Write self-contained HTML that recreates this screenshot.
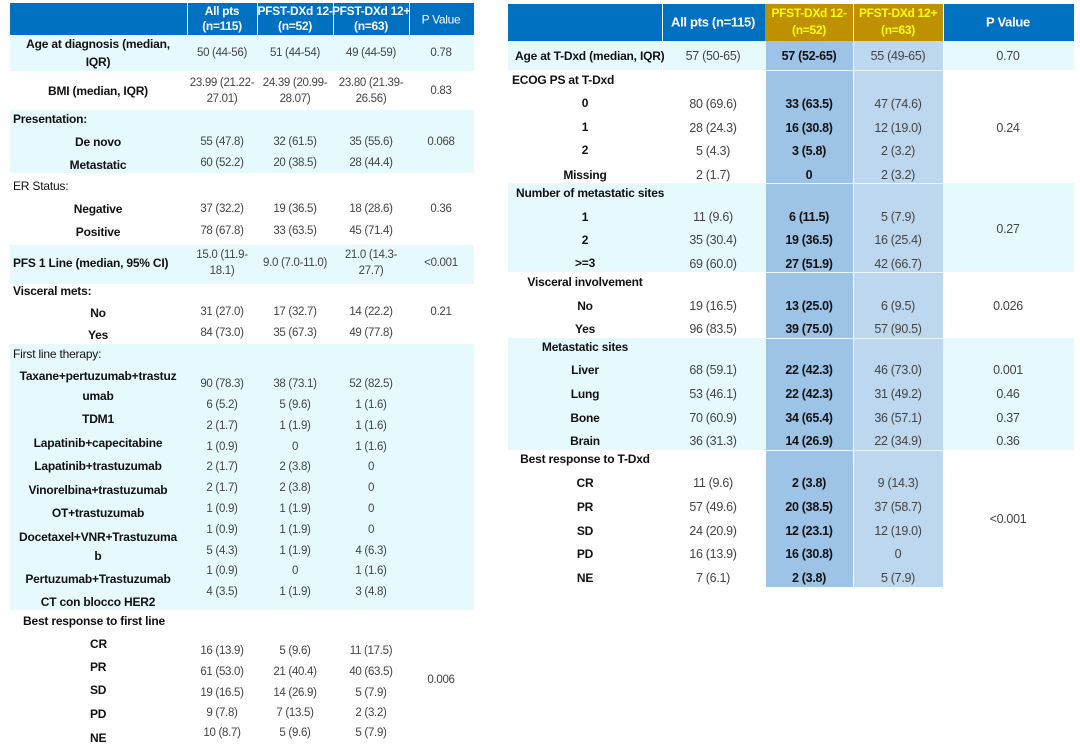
<!DOCTYPE html>
<html><head><meta charset="utf-8"><style>
body{margin:0;width:1080px;height:755px;background:#fff;position:relative;overflow:hidden;font-family:"Liberation Sans",Arial,sans-serif}
.r{position:absolute}
.c,.l,.v,.b,.h{position:absolute;white-space:nowrap;transform:translate(-50%,-50%)}
.l{transform:translateY(-50%)}
.c,.l{font-size:12px;font-weight:bold;color:#111;letter-spacing:-0.2px}
.v{font-size:11.5px;color:#444;letter-spacing:-0.3px}
.R .v{font-size:12.5px}
.b{font-size:12.5px;font-weight:bold;color:#111;letter-spacing:-0.3px}
.h{font-size:12px;font-weight:bold;color:#fff;text-align:center;line-height:15px;letter-spacing:-0.3px}
.y{color:#ffff00}
.s{font-weight:normal}
</style></head><body>
<!-- LEFT TABLE backgrounds -->
<div class="r" style="left:10px;top:3px;width:464px;height:32px;background:#0070c0"></div>
<div class="r" style="left:187px;top:3px;width:1px;height:32px;background:#fff"></div>
<div class="r" style="left:257px;top:3px;width:1px;height:32px;background:#fff"></div>
<div class="r" style="left:333px;top:3px;width:1px;height:32px;background:#fff"></div>
<div class="r" style="left:409px;top:3px;width:1px;height:32px;background:#fff"></div>
<div class="r" style="left:10px;top:36px;width:464px;height:35px;background:#e6fafd"></div>
<div class="r" style="left:10px;top:110px;width:464px;height:63px;background:#e6fafd"></div>
<div class="r" style="left:10px;top:245px;width:464px;height:39px;background:#e6fafd"></div>
<div class="r" style="left:10px;top:344px;width:464px;height:266px;background:#e6fafd"></div>

<div class="h" style="left:222px;top:19px">All pts<br>(n=115)</div>
<div class="h" style="left:295px;top:19px">PFST-DXd 12-<br>(n=52)</div>
<div class="h" style="left:371px;top:19px">PFST-DXd 12+<br>(n=63)</div>
<div class="h s" style="left:441px;top:20px">P Value</div>

<div class="c" style="left:98px;top:53px;text-align:center;line-height:18px">Age at diagnosis (median,<br>IQR)</div>
<div class="v" style="left:222px;top:53px">50 (44-56)</div><div class="v" style="left:295px;top:53px">51 (44-54)</div><div class="v" style="left:371px;top:53px">49 (44-59)</div><div class="v" style="left:441px;top:53px">0.78</div>
<div class="c" style="left:98px;top:91px">BMI (median, IQR)</div>
<div class="v" style="left:222px;top:91px;text-align:center;line-height:16px">23.99 (21.22-<br>27.01)</div><div class="v" style="left:295px;top:91px;text-align:center;line-height:16px">24.39 (20.99-<br>28.07)</div><div class="v" style="left:371px;top:91px;text-align:center;line-height:16px">23.80 (21.39-<br>26.56)</div><div class="v" style="left:441px;top:91px">0.83</div>
<div class="l" style="left:13px;top:119px">Presentation:</div>
<div class="c" style="left:98px;top:142px">De novo</div><div class="c" style="left:98px;top:165px">Metastatic</div>
<div class="v" style="left:222px;top:142px">55 (47.8)</div><div class="v" style="left:295px;top:142px">32 (61.5)</div><div class="v" style="left:371px;top:142px">35 (55.6)</div><div class="v" style="left:441px;top:142px">0.068</div>
<div class="v" style="left:222px;top:163px">60 (52.2)</div><div class="v" style="left:295px;top:163px">20 (38.5)</div><div class="v" style="left:371px;top:163px">28 (44.4)</div>
<div class="l s" style="left:13px;top:186px">ER Status:</div>
<div class="c" style="left:98px;top:209px">Negative</div><div class="c" style="left:98px;top:232px">Positive</div>
<div class="v" style="left:222px;top:209px">37 (32.2)</div><div class="v" style="left:295px;top:209px">19 (36.5)</div><div class="v" style="left:371px;top:209px">18 (28.6)</div><div class="v" style="left:441px;top:209px">0.36</div>
<div class="v" style="left:222px;top:231px">78 (67.8)</div><div class="v" style="left:295px;top:231px">33 (63.5)</div><div class="v" style="left:371px;top:231px">45 (71.4)</div>
<div class="l" style="left:13px;top:263px">PFS 1 Line (median, 95% CI)</div>
<div class="v" style="left:222px;top:263px;text-align:center;line-height:16px">15.0 (11.9-<br>18.1)</div><div class="v" style="left:295px;top:263px">9.0 (7.0-11.0)</div><div class="v" style="left:371px;top:263px;text-align:center;line-height:16px">21.0 (14.3-<br>27.7)</div><div class="v" style="left:441px;top:263px">&lt;0.001</div>
<div class="l" style="left:13px;top:291px">Visceral mets:</div>
<div class="c" style="left:98px;top:313px">No</div><div class="c" style="left:98px;top:335px">Yes</div>
<div class="v" style="left:222px;top:312px">31 (27.0)</div><div class="v" style="left:295px;top:312px">17 (32.7)</div><div class="v" style="left:371px;top:312px">14 (22.2)</div><div class="v" style="left:441px;top:312px">0.21</div>
<div class="v" style="left:222px;top:333px">84 (73.0)</div><div class="v" style="left:295px;top:333px">35 (67.3)</div><div class="v" style="left:371px;top:333px">49 (77.8)</div>
<div class="l s" style="left:13px;top:354px">First line therapy:</div>
<div class="c" style="left:98px;top:386px;text-align:center;line-height:20px">Taxane+pertuzumab+trastuz<br>umab</div>
<div class="c" style="left:98px;top:419px">TDM1</div>
<div class="c" style="left:98px;top:443px">Lapatinib+capecitabine</div>
<div class="c" style="left:98px;top:466px">Lapatinib+trastuzumab</div>
<div class="c" style="left:98px;top:490px">Vinorelbina+trastuzumab</div>
<div class="c" style="left:98px;top:513px">OT+trastuzumab</div>
<div class="c" style="left:98px;top:547px;text-align:center;line-height:19px">Docetaxel+VNR+Trastuzuma<br>b</div>
<div class="c" style="left:98px;top:579px">Pertuzumab+Trastuzumab</div>
<div class="c" style="left:98px;top:602px">CT con blocco HER2</div>
<div class="v" style="left:222px;top:384px">90 (78.3)</div><div class="v" style="left:295px;top:384px">38 (73.1)</div><div class="v" style="left:371px;top:384px">52 (82.5)</div>
<div class="v" style="left:222px;top:405px">6 (5.2)</div><div class="v" style="left:295px;top:405px">5 (9.6)</div><div class="v" style="left:371px;top:405px">1 (1.6)</div>
<div class="v" style="left:222px;top:426px">2 (1.7)</div><div class="v" style="left:295px;top:426px">1 (1.9)</div><div class="v" style="left:371px;top:426px">1 (1.6)</div>
<div class="v" style="left:222px;top:447px">1 (0.9)</div><div class="v" style="left:295px;top:447px">0</div><div class="v" style="left:371px;top:447px">1 (1.6)</div>
<div class="v" style="left:222px;top:467px">2 (1.7)</div><div class="v" style="left:295px;top:467px">2 (3.8)</div><div class="v" style="left:371px;top:467px">0</div>
<div class="v" style="left:222px;top:488px">2 (1.7)</div><div class="v" style="left:295px;top:488px">2 (3.8)</div><div class="v" style="left:371px;top:488px">0</div>
<div class="v" style="left:222px;top:509px">1 (0.9)</div><div class="v" style="left:295px;top:509px">1 (1.9)</div><div class="v" style="left:371px;top:509px">0</div>
<div class="v" style="left:222px;top:530px">1 (0.9)</div><div class="v" style="left:295px;top:530px">1 (1.9)</div><div class="v" style="left:371px;top:530px">0</div>
<div class="v" style="left:222px;top:551px">5 (4.3)</div><div class="v" style="left:295px;top:551px">1 (1.9)</div><div class="v" style="left:371px;top:551px">4 (6.3)</div>
<div class="v" style="left:222px;top:571px">1 (0.9)</div><div class="v" style="left:295px;top:571px">0</div><div class="v" style="left:371px;top:571px">1 (1.6)</div>
<div class="v" style="left:222px;top:592px">4 (3.5)</div><div class="v" style="left:295px;top:592px">1 (1.9)</div><div class="v" style="left:371px;top:592px">3 (4.8)</div>
<div class="l" style="left:23px;top:621px">Best response to first line</div>
<div class="l" style="left:90px;top:644px">CR</div><div class="l" style="left:90px;top:667px">PR</div><div class="l" style="left:90px;top:690px">SD</div><div class="l" style="left:90px;top:714px">PD</div><div class="l" style="left:90px;top:738px">NE</div>
<div class="v" style="left:222px;top:651px">16 (13.9)</div><div class="v" style="left:295px;top:651px">5 (9.6)</div><div class="v" style="left:371px;top:651px">11 (17.5)</div>
<div class="v" style="left:222px;top:672px">61 (53.0)</div><div class="v" style="left:295px;top:672px">21 (40.4)</div><div class="v" style="left:371px;top:672px">40 (63.5)</div>
<div class="v" style="left:222px;top:693px">19 (16.5)</div><div class="v" style="left:295px;top:693px">14 (26.9)</div><div class="v" style="left:371px;top:693px">5 (7.9)</div>
<div class="v" style="left:222px;top:713px">9 (7.8)</div><div class="v" style="left:295px;top:713px">7 (13.5)</div><div class="v" style="left:371px;top:713px">2 (3.2)</div>
<div class="v" style="left:222px;top:733px">10 (8.7)</div><div class="v" style="left:295px;top:733px">5 (9.6)</div><div class="v" style="left:371px;top:733px">5 (7.9)</div>
<div class="v" style="left:441px;top:680px">0.006</div>

<!-- RIGHT TABLE -->
<div class="R">
<div class="r" style="left:508px;top:4px;width:566px;height:37px;background:#0070c0"></div>
<div class="r" style="left:765px;top:4px;width:178px;height:37px;background:#bf9000"></div>
<div class="r" style="left:662px;top:4px;width:1px;height:37px;background:#fff"></div>
<div class="r" style="left:853px;top:4px;width:1px;height:37px;background:#fff"></div>
<div class="r" style="left:943px;top:4px;width:1px;height:37px;background:#fff"></div>
<div class="r" style="left:508px;top:41px;width:566px;height:29px;background:#e6fafd"></div>
<div class="r" style="left:508px;top:183px;width:566px;height:89px;background:#e6fafd"></div>
<div class="r" style="left:508px;top:338px;width:566px;height:112px;background:#e6fafd"></div>
<div class="r" style="left:766px;top:41px;width:87px;height:546px;background:#9dc3e6"></div>
<div class="r" style="left:854px;top:41px;width:89px;height:546px;background:#bdd7ee"></div>
<div class="r" style="left:662px;top:41px;width:1px;height:29px;background:#fff"></div>
<div class="r" style="left:943px;top:41px;width:1px;height:29px;background:#fff"></div>
<div class="r" style="left:766px;top:70px;width:177px;height:1px;background:#e6fafd"></div>
<div class="r" style="left:766px;top:183px;width:177px;height:1px;background:#e6fafd"></div>
<div class="r" style="left:766px;top:272px;width:177px;height:1px;background:#e6fafd"></div>
<div class="r" style="left:766px;top:338px;width:177px;height:1px;background:#e6fafd"></div>
<div class="r" style="left:766px;top:450px;width:177px;height:1px;background:#e6fafd"></div>

<div class="h" style="left:713px;top:22px;font-size:13px">All pts (n=115)</div>
<div class="h y" style="left:809px;top:22px;line-height:17px">PFST-DXd 12-<br>(n=52)</div>
<div class="h y" style="left:898px;top:22px;line-height:17px">PFST-DXd 12+<br>(n=63)</div>
<div class="h" style="left:1008px;top:22px;font-size:13px">P Value</div>

<div class="l" style="left:515px;top:56px">Age at T-Dxd (median, IQR)</div>
<div class="v" style="left:713px;top:56px">57 (50-65)</div><div class="b" style="left:809px;top:56px">57 (52-65)</div><div class="v" style="left:898px;top:56px">55 (49-65)</div><div class="v" style="left:1008px;top:56px">0.70</div>

<div class="l" style="left:512px;top:80px">ECOG PS at T-Dxd</div>
<div class="c" style="left:585px;top:103px">0</div><div class="c" style="left:585px;top:127px">1</div><div class="c" style="left:585px;top:150px">2</div><div class="c" style="left:585px;top:175px">Missing</div>
<div class="v" style="left:713px;top:104px">80 (69.6)</div><div class="b" style="left:809px;top:104px">33 (63.5)</div><div class="v" style="left:898px;top:104px">47 (74.6)</div>
<div class="v" style="left:713px;top:128px">28 (24.3)</div><div class="b" style="left:809px;top:128px">16 (30.8)</div><div class="v" style="left:898px;top:128px">12 (19.0)</div>
<div class="v" style="left:713px;top:151px">5 (4.3)</div><div class="b" style="left:809px;top:151px">3 (5.8)</div><div class="v" style="left:898px;top:151px">2 (3.2)</div>
<div class="v" style="left:713px;top:175px">2 (1.7)</div><div class="b" style="left:809px;top:175px">0</div><div class="v" style="left:898px;top:175px">2 (3.2)</div>
<div class="v" style="left:1008px;top:128px">0.24</div>

<div class="l" style="left:516px;top:193px">Number of metastatic sites</div>
<div class="c" style="left:585px;top:217px">1</div><div class="c" style="left:585px;top:240px">2</div><div class="c" style="left:585px;top:263px">&gt;=3</div>
<div class="v" style="left:713px;top:217px">11 (9.6)</div><div class="b" style="left:809px;top:217px">6 (11.5)</div><div class="v" style="left:898px;top:217px">5 (7.9)</div>
<div class="v" style="left:713px;top:240px">35 (30.4)</div><div class="b" style="left:809px;top:240px">19 (36.5)</div><div class="v" style="left:898px;top:240px">16 (25.4)</div>
<div class="v" style="left:713px;top:264px">69 (60.0)</div><div class="b" style="left:809px;top:264px">27 (51.9)</div><div class="v" style="left:898px;top:264px">42 (66.7)</div>
<div class="v" style="left:1008px;top:229px">0.27</div>

<div class="c" style="left:585px;top:282px">Visceral involvement</div>
<div class="c" style="left:585px;top:306px">No</div><div class="c" style="left:585px;top:329px">Yes</div>
<div class="v" style="left:713px;top:306px">19 (16.5)</div><div class="b" style="left:809px;top:306px">13 (25.0)</div><div class="v" style="left:898px;top:306px">6 (9.5)</div>
<div class="v" style="left:713px;top:329px">96 (83.5)</div><div class="b" style="left:809px;top:329px">39 (75.0)</div><div class="v" style="left:898px;top:329px">57 (90.5)</div>
<div class="v" style="left:1008px;top:306px">0.026</div>

<div class="c" style="left:585px;top:347px">Metastatic sites</div>
<div class="c" style="left:585px;top:370px">Liver</div><div class="c" style="left:585px;top:394px">Lung</div><div class="c" style="left:585px;top:418px">Bone</div><div class="c" style="left:585px;top:441px">Brain</div>
<div class="v" style="left:713px;top:370px">68 (59.1)</div><div class="b" style="left:809px;top:370px">22 (42.3)</div><div class="v" style="left:898px;top:370px">46 (73.0)</div><div class="v" style="left:1008px;top:370px">0.001</div>
<div class="v" style="left:713px;top:394px">53 (46.1)</div><div class="b" style="left:809px;top:394px">22 (42.3)</div><div class="v" style="left:898px;top:394px">31 (49.2)</div><div class="v" style="left:1008px;top:394px">0.46</div>
<div class="v" style="left:713px;top:418px">70 (60.9)</div><div class="b" style="left:809px;top:418px">34 (65.4)</div><div class="v" style="left:898px;top:418px">36 (57.1)</div><div class="v" style="left:1008px;top:418px">0.37</div>
<div class="v" style="left:713px;top:441px">36 (31.3)</div><div class="b" style="left:809px;top:441px">14 (26.9)</div><div class="v" style="left:898px;top:441px">22 (34.9)</div><div class="v" style="left:1008px;top:441px">0.36</div>

<div class="c" style="left:585px;top:459px">Best response to T-Dxd</div>
<div class="c" style="left:585px;top:483px">CR</div><div class="c" style="left:585px;top:507px">PR</div><div class="c" style="left:585px;top:531px">SD</div><div class="c" style="left:585px;top:554px">PD</div><div class="c" style="left:585px;top:578px">NE</div>
<div class="v" style="left:713px;top:483px">11 (9.6)</div><div class="b" style="left:809px;top:483px">2 (3.8)</div><div class="v" style="left:898px;top:483px">9 (14.3)</div>
<div class="v" style="left:713px;top:507px">57 (49.6)</div><div class="b" style="left:809px;top:507px">20 (38.5)</div><div class="v" style="left:898px;top:507px">37 (58.7)</div>
<div class="v" style="left:713px;top:531px">24 (20.9)</div><div class="b" style="left:809px;top:531px">12 (23.1)</div><div class="v" style="left:898px;top:531px">12 (19.0)</div>
<div class="v" style="left:713px;top:554px">16 (13.9)</div><div class="b" style="left:809px;top:554px">16 (30.8)</div><div class="v" style="left:898px;top:554px">0</div>
<div class="v" style="left:713px;top:578px">7 (6.1)</div><div class="b" style="left:809px;top:578px">2 (3.8)</div><div class="v" style="left:898px;top:578px">5 (7.9)</div>
<div class="v" style="left:1008px;top:519px">&lt;0.001</div>
</div>
</body></html>
